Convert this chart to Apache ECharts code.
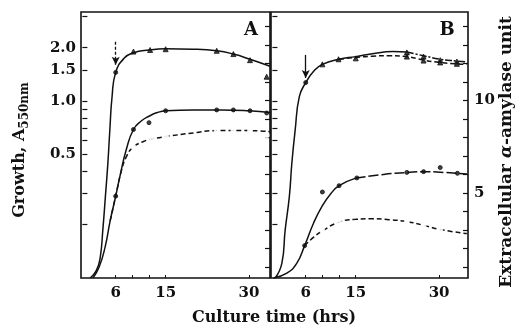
<!DOCTYPE html>
<html>
<head>
<meta charset="utf-8">
<script src="https://cdn.jsdelivr.net/npm/echarts@6/dist/echarts.min.js"></script>
<style>html,body{margin:0;padding:0;background:#fff;}#c{width:529px;height:329px;}</style>
</head>
<body>
<div id="c"></div>
<script>
// ---- tick / label values ----
const xTicks = [6, 9, 12, 15, 30];
const xLabels = [6, 15, 30];
const growthLabels = [0.5, 1.0, 1.5, 2.0];
const growthTicks = [0.2, 0.3, 0.4, 0.5, 0.6, 0.7, 0.8, 0.9, 1.0, 1.5, 2.0, 3.0];
const amylaseLabels = [5, 10];
const amylaseTicks = [1, 2, 3, 4, 5, 6, 7, 8, 9, 10, 11, 12, 13, 14];

// ---- Panel A (growth, A550nm) ----
const aTopCurve = [[1.4,0.1],[2.5,0.11],[3.2,0.13],[3.7,0.19],[4.15,0.29],[4.6,0.45],[4.95,0.69],[5.35,1.06],[6,1.45],[7.5,1.74],[9.2,1.87],[12,1.94],[15,1.97],[20,1.96],[24.2,1.92],[27.2,1.84],[30.2,1.72],[33.8,1.57]];
const aTopPts = [[9.2,1.90],[12.2,1.94],[15,1.96],[24.2,1.92],[27.2,1.84],[30.2,1.70],[33.2,1.37]];
const aTopDot = [[6,1.45]];
const aMidCurve = [[1.9,0.1],[3.0,0.115],[4.1,0.15],[5.0,0.21],[6,0.29],[6.8,0.38],[7.9,0.53],[9.2,0.69],[10.6,0.77],[12,0.82],[13.5,0.86],[15,0.88],[20,0.89],[25,0.89],[30,0.88],[33.8,0.86]];
const aMidPts = [[6,0.29],[9.2,0.69],[12,0.754],[15,0.88],[24.2,0.89],[27.2,0.89],[30.2,0.88],[33.2,0.855]];
const aLowCurve = [[5.0,0.21],[6,0.29],[7,0.4],[8,0.49],[9.2,0.55],[11,0.59],[12.5,0.61],[15.2,0.63],[20,0.66],[24.2,0.68],[30.2,0.68],[33.8,0.67]];
const aLowPts = [[9.2,0.55],[12.5,0.61],[15.2,0.62],[24.2,0.68],[27.2,0.68],[30.2,0.68],[33.2,0.64]];
const aArrow = [[6,2.16],[6,1.60]];

// ---- Panel B ----
const bTopCurve = [[0.5,0.1],[1.7,0.121],[2.3,0.187],[3.05,0.288],[3.5,0.445],[4.1,0.686],[4.85,1.057],[6,1.27],[7.5,1.48],[9,1.61],[12,1.72],[15,1.78],[18,1.85],[21.7,1.90],[24.2,1.89]];
const bTopTail = [[24.2,1.89],[27.2,1.80],[30.2,1.72],[33.2,1.68],[35,1.66]];
const bTopPts = [[9,1.61],[11.9,1.72],[15,1.74],[24.2,1.88],[27.2,1.78],[30.2,1.70],[33.2,1.67]];
const bTopDot = [[6,1.27]];
const bDashCurve = [[12,1.72],[15,1.76],[18,1.79],[21,1.80],[24.2,1.78],[27.2,1.70],[30.2,1.65],[33.2,1.62],[35,1.61]];
const bDashPts = [[24.2,1.78],[27.2,1.69],[30.2,1.65],[33.2,1.62]];
const bArrow = [[6,1.82],[6,1.35]];

// amylase (units)
const bMidCurve = [[0.2,0.4],[2.6,0.66],[4.4,1.2],[5.8,2.15],[7.4,3.36],[8.9,4.26],[10.5,4.95],[12,5.39],[15,5.8]];
const bMidTail = [[15,5.8],[20,6.0],[24.2,6.1],[27.2,6.15],[30.2,6.12],[35,6.02]];
const bMidPts = [[5.8,2.15],[9,5.05],[12,5.39],[15.2,5.81],[24.2,6.11],[27.2,6.15],[30.2,6.37],[33.3,6.06]];
const bLowCurve = [[5.8,2.15],[7.5,2.62],[9,2.95],[12,3.42],[15,3.57],[18,3.6],[21,3.55],[24.2,3.45],[27.2,3.25],[30.2,3.02],[35,2.8]];
const bLowPts = [[9,2.95],[12,3.42],[24.2,3.45],[27.2,3.24],[30.2,3.0],[33.2,2.19]];

const INK = '#111';
const FONT = 'DejaVu Serif';

function curve(data, xi, yi, type, extra) {
  return Object.assign({
    type: 'line', data: data, xAxisIndex: xi, yAxisIndex: yi,
    showSymbol: false, smooth: 0.5, silent: true,
    lineStyle: { color: INK, width: 1.5, type: type || 'solid' },
    z: 3
  }, extra || {});
}
function pts(data, xi, yi, symbol, size) {
  return {
    type: 'scatter', data: data, xAxisIndex: xi, yAxisIndex: yi,
    symbol: symbol, symbolSize: size, silent: true,
    itemStyle: { color: symbol === 'emptyCircle' ? '#fff' : INK, borderColor: INK, borderWidth: 1 },
    z: 4
  };
}
function arrow(data, type) {
  return {
    silent: true, symbol: ['none', 'arrow'], symbolSize: [6, 8],
    label: { show: false },
    lineStyle: { color: INK, width: 1.3, type: type },
    data: [[{ coord: data[0] }, { coord: data[1] }]]
  };
}

const tickLabel = { fontFamily: FONT, fontWeight: 'bold', fontSize: 15, color: INK };

function xAxisDef(gi, max) {
  return {
    type: 'value', gridIndex: gi, min: -0.25, max: max,
    axisLine: { show: false }, splitLine: { show: false },
    axisTick: { show: true, inside: true, length: 3, customValues: xTicks, lineStyle: { color: INK, width: 1 } },
    axisLabel: Object.assign({ customValues: xLabels, margin: 8 }, tickLabel)
  };
}
function growthAxis(gi, showLabel) {
  return {
    type: 'log', logBase: 10, gridIndex: gi, min: 0.1, max: 3.18, position: 'left',
    axisLine: { show: false }, splitLine: { show: false }, minorTick: { show: false },
    axisTick: { show: true, inside: true, length: 5, customValues: growthTicks, lineStyle: { color: INK, width: 1.2 } },
    axisLabel: Object.assign({ show: showLabel, customValues: growthLabels, margin: 5,
      formatter: v => Number(v).toFixed(1) }, tickLabel)
  };
}
function amylaseAxis(gi, showLabel) {
  return {
    type: 'value', gridIndex: gi, min: 0.4, max: 14.78, position: 'right',
    axisLine: { show: false }, splitLine: { show: false },
    axisTick: { show: true, inside: true, length: 5, customValues: amylaseTicks, lineStyle: { color: INK, width: 1.2 } },
    axisLabel: Object.assign({ show: showLabel, customValues: amylaseLabels, margin: 6 }, tickLabel)
  };
}

const chart = echarts.init(document.getElementById('c'), null, { renderer: 'canvas' });
chart.setOption({
  animation: false,
  backgroundColor: '#fff',
  grid: [
    { left: 81, top: 12, width: 189, height: 266, show: true, borderColor: INK, borderWidth: 1.6, backgroundColor: 'transparent' },
    { left: 271, top: 12, width: 197, height: 266, show: true, borderColor: INK, borderWidth: 1.6, backgroundColor: 'transparent' }
  ],
  xAxis: [xAxisDef(0, 33.8), xAxisDef(1, 35.2)],
  yAxis: [growthAxis(0, true), amylaseAxis(0, false), growthAxis(1, false), amylaseAxis(1, true)],
  series: [
    curve(aTopCurve, 0, 0, 'solid', { markLine: arrow(aArrow, [3, 2]) }),
    pts(aTopPts, 0, 0, 'triangle', 5),
    pts(aTopDot, 0, 0, 'circle', 4),
    curve(aMidCurve, 0, 0, 'solid'),
    pts(aMidPts, 0, 0, 'circle', 4),
    curve(aLowCurve, 0, 0, [5, 3]),
    pts(aLowPts, 0, 0, 'emptyCircle', 4),

    curve(bTopCurve, 1, 2, 'solid', { markLine: arrow(bArrow, 'solid') }),
    curve(bTopTail, 1, 2, [7, 2, 2, 2]),
    pts(bTopPts, 1, 2, 'triangle', 5),
    pts(bTopDot, 1, 2, 'circle', 4),
    curve(bDashCurve, 1, 2, [5, 3]),
    pts(bDashPts, 1, 2, 'triangle', 5),

    curve(bMidCurve, 1, 3, 'solid'),
    curve(bMidTail, 1, 3, [10, 3]),
    pts(bMidPts, 1, 3, 'circle', 4),
    curve(bLowCurve, 1, 3, [5, 3]),
    pts(bLowPts, 1, 3, 'emptyCircle', 4)
  ],
  graphic: [
    { type: 'text', x: 251, y: 30, style: { text: 'A', font: 'bold 18px "DejaVu Serif"', fill: INK, align: 'center', verticalAlign: 'middle' } },
    { type: 'text', x: 447, y: 30, style: { text: 'B', font: 'bold 18px "DejaVu Serif"', fill: INK, align: 'center', verticalAlign: 'middle' } },
    { type: 'text', x: 20, y: 150, rotation: Math.PI / 2,
      style: { text: '{a|Growth, A}{b|550nm}', align: 'center', verticalAlign: 'middle', fill: INK,
        rich: { a: { fontFamily: FONT, fontWeight: 'bold', fontSize: 16, lineHeight: 22, fill: INK },
                b: { fontFamily: FONT, fontWeight: 'bold', fontSize: 12, lineHeight: 22, verticalAlign: 'bottom', padding: [9, 0, 0, 0], fill: INK } } } },
    { type: 'text', x: 507, y: 152, rotation: Math.PI / 2,
      style: { text: '{a|Extracellular }{i|α}{a|-amylase unit}', align: 'center', verticalAlign: 'middle', fill: INK,
        rich: { a: { fontFamily: FONT, fontWeight: 'bold', fontSize: 17, fill: INK },
                i: { fontFamily: FONT, fontWeight: 'bold', fontStyle: 'italic', fontSize: 17, fill: INK } } } },
    { type: 'text', x: 274, y: 318, style: { text: 'Culture time (hrs)', font: 'bold 16px "DejaVu Serif"', fill: INK, align: 'center', verticalAlign: 'middle' } }
  ]
});
</script>
</body>
</html>
